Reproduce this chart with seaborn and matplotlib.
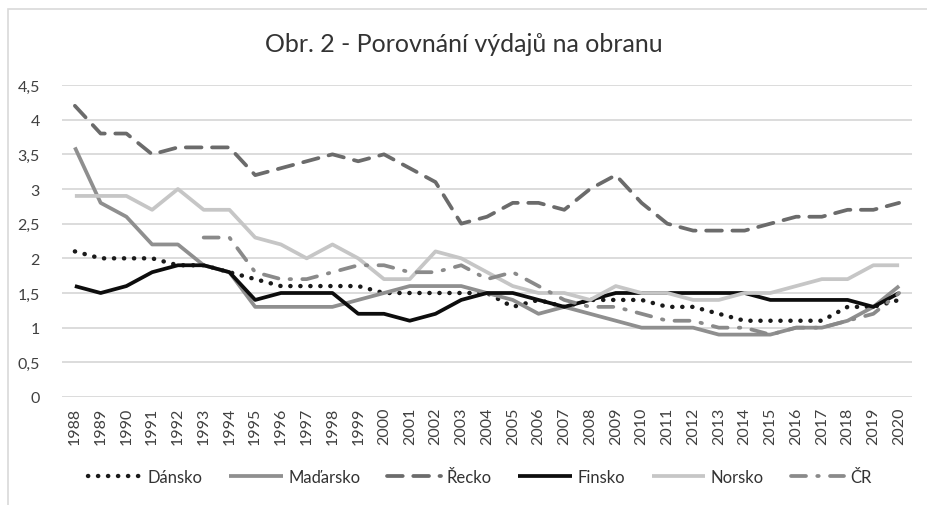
import numpy as np
import pandas as pd
import matplotlib
matplotlib.use("Agg")
import matplotlib.pyplot as plt
import seaborn as sns
from matplotlib.patches import Rectangle

# data
years = list(range(1988, 2021))
dansko = [2.1, 2.0, 2.0, 2.0, 1.9, 1.9, 1.8, 1.7, 1.6, 1.6, 1.6, 1.6, 1.5, 1.5, 1.5, 1.5, 1.5,
          1.3, 1.4, 1.3, 1.4, 1.4, 1.4, 1.3, 1.3, 1.2, 1.1, 1.1, 1.1, 1.1, 1.3, 1.3, 1.4]
madarsko = [3.6, 2.8, 2.6, 2.2, 2.2, 1.9, 1.8, 1.3, 1.3, 1.3, 1.3, 1.4, 1.5, 1.6, 1.6, 1.6, 1.5,
            1.4, 1.2, 1.3, 1.2, 1.1, 1.0, 1.0, 1.0, 0.9, 0.9, 0.9, 1.0, 1.0, 1.1, 1.3, 1.6]
recko = [4.2, 3.8, 3.8, 3.5, 3.6, 3.6, 3.6, 3.2, 3.3, 3.4, 3.5, 3.4, 3.5, 3.3, 3.1, 2.5, 2.6,
         2.8, 2.8, 2.7, 3.0, 3.2, 2.8, 2.5, 2.4, 2.4, 2.4, 2.5, 2.6, 2.6, 2.7, 2.7, 2.8]
finsko = [1.6, 1.5, 1.6, 1.8, 1.9, 1.9, 1.8, 1.4, 1.5, 1.5, 1.5, 1.2, 1.2, 1.1, 1.2, 1.4, 1.5,
          1.5, 1.4, 1.3, 1.4, 1.5, 1.5, 1.5, 1.5, 1.5, 1.5, 1.4, 1.4, 1.4, 1.4, 1.3, 1.5]
norsko = [2.9, 2.9, 2.9, 2.7, 3.0, 2.7, 2.7, 2.3, 2.2, 2.0, 2.2, 2.0, 1.7, 1.7, 2.1, 2.0, 1.8,
          1.6, 1.5, 1.5, 1.4, 1.6, 1.5, 1.5, 1.4, 1.4, 1.5, 1.5, 1.6, 1.7, 1.7, 1.9, 1.9]
cr = [None, None, None, None, None, 2.3, 2.3, 1.8, 1.7, 1.7, 1.8, 1.9, 1.9, 1.8, 1.8, 1.9, 1.7,
      1.8, 1.6, 1.4, 1.3, 1.3, 1.2, 1.1, 1.1, 1.0, 1.0, 0.9, 1.0, 1.0, 1.1, 1.2, 1.5]

series = [
    ("Dánsko", dansko, "#1a1a1a", (0, (0.05, 2.2)), 3.2),
    ("Maďarsko", madarsko, "#8f8f8f", "-", 2.7),
    ("Řecko", recko, "#6b6b6b", (0, (4.2, 2.8)), 2.7),
    ("Finsko", finsko, "#0d0d0d", "-", 2.7),
    ("Norsko", norsko, "#c6c6c6", "-", 2.7),
    ("ČR", cr, "#8a8a8a", (0, (4.0, 3.0, 0.4, 3.0)), 2.7),
]

sns.set_style("white")
plt.rcParams["font.family"] = ["Lato", "DejaVu Sans"]

fig = plt.figure(figsize=(9.28, 5.06), dpi=100)
ax = fig.add_axes([62 / 928, 1 - 398 / 506, 850 / 928, 312 / 506])

for name, vals, col, ls, lw in series:
    s = pd.Series(vals, index=years, dtype=float)
    sns.lineplot(x=s.index, y=s.values, ax=ax, color=col, linewidth=lw, label=name)
    line = ax.lines[-1]
    line.set_linestyle(ls)
    line.set_dash_capstyle("round")
    line.set_solid_capstyle("butt")
    line.set_solid_joinstyle("round")

ax.set_xlim(1987.5, 2020.5)
ax.set_ylim(0, 4.5)
ax.set_xticks(years)
ax.set_xticklabels([str(y) for y in years], rotation=90, fontsize=11.5, color="#404040")
yt = np.arange(0, 4.51, 0.5)
ax.set_yticks(yt)
ax.set_yticklabels([f"{v:g}".replace(".", ",") for v in yt], fontsize=11.5, color="#404040")
ax.tick_params(axis="y", length=0, pad=16)
ax.tick_params(axis="x", length=0, pad=7)
ax.grid(axis="y", color="#d9d9d9", linewidth=1.3)
ax.set_axisbelow(True)
for sp in ax.spines.values():
    sp.set_visible(False)
ax.set_xlabel("")
ax.set_ylabel("")

fig.text(0.5, 1 - 45 / 506, "Obr. 2 - Porovnání výdajů na obranu", ha="center", va="center",
         fontsize=18, color="#333333")

handles, labels = ax.get_legend_handles_labels()
if ax.legend_:
    ax.legend_.remove()
fig.legend(handles, labels, loc="center", bbox_to_anchor=(0.517, 1 - 478 / 506), ncol=6,
           frameon=False, fontsize=12, handlelength=3.2, handletextpad=0.35,
           columnspacing=1.6, labelcolor="#333333")

fig.patches.append(Rectangle((8 / 928, -0.05), 1.1, 1 - 10 / 506 + 0.05, transform=fig.transFigure,
                             fill=False, edgecolor="#d9d9d9", linewidth=1.2))

fig.savefig("out.png", dpi=100, facecolor="white")
